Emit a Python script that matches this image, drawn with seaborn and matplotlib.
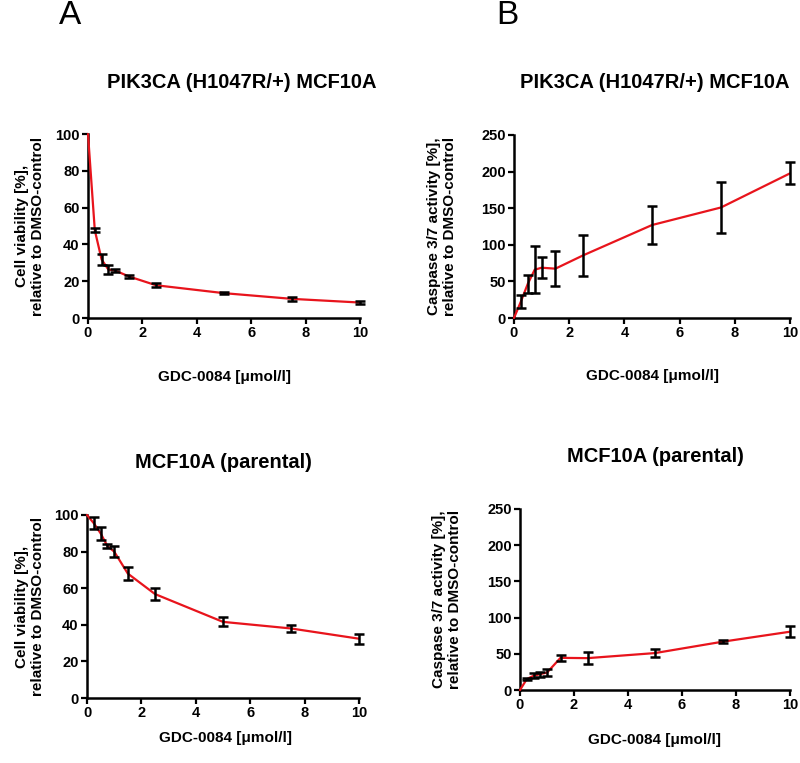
import matplotlib
matplotlib.use("Agg")
import matplotlib.pyplot as plt
import seaborn as sns
import numpy as np
import pandas as pd

sns.set_theme(style="ticks")
plt.rcParams['font.family'] = ['Liberation Sans', 'DejaVu Sans']
plt.rcParams['text.color'] = 'black'
plt.rcParams['axes.labelcolor'] = 'black'

dose = [0, 0.25, 0.5, 0.75, 1.0, 1.5, 2.5, 5.0, 7.5, 10.0]

via_mut = [100, 47.7, 31.8, 26.3, 25.8, 22.6, 17.8, 13.5, 10.4, 8.4]
via_mut_err = [0, 1.0, 2.8, 2.3, 0.8, 1.0, 1.1, 0.5, 1.2, 0.7]

cas_mut = [0, 22.5, 46.7, 66, 68.7, 67.4, 85.5, 127, 151, 197.6]
cas_mut_err = [0, 8.4, 12.3, 32, 14.3, 23.8, 28.5, 26, 35, 15]

via_par = [100, 95.5, 90, 83, 80, 68, 56.8, 41.6, 38, 32.4]
via_par_err = [0, 3.2, 3.6, 1.0, 3.0, 3.6, 3.2, 2.5, 2.0, 2.7]

cas_par = [0, 15, 19.6, 22, 24, 44.4, 44, 51, 66.7, 80.5]
cas_par_err = [0, 1.2, 3.5, 3.5, 5, 4.6, 8, 5.5, 1.9, 7.4]

title_mut = "PIK3CA (H1047R/+) MCF10A"
title_par = "MCF10A (parental)"
xlab = "GDC-0084 [\u03bcmol/l]"
ylab_via = "Cell viability [%],\nrelative to DMSO-control"
ylab_cas = "Caspase 3/7 activity [%],\nrelative to DMSO-control"

W, H = 800, 763
fig = plt.figure(figsize=(8, 7.63), dpi=100)

def px_axes(l, r, t, b):
    return fig.add_axes([l / W, 1 - b / H, (r - l) / W, (b - t) / H])

panels = [
    dict(box=(88, 360, 134, 318), y=via_mut, e=via_mut_err, ymax=100, yt=[0, 20, 40, 60, 80, 100],
         title=title_mut, ylab=ylab_via, tpx=(242, 82), xlpx=(225, 377), ylpx=30),
    dict(box=(514, 790, 135, 318), y=cas_mut, e=cas_mut_err, ymax=250, yt=[0, 50, 100, 150, 200, 250],
         title=title_mut, ylab=ylab_cas, tpx=(655, 82), xlpx=(652, 376), ylpx=442),
    dict(box=(87, 359, 515, 698), y=via_par, e=via_par_err, ymax=100, yt=[0, 20, 40, 60, 80, 100],
         title=title_par, ylab=ylab_via, tpx=(223, 462), xlpx=(225, 738), ylpx=30),
    dict(box=(520, 790, 509, 690), y=cas_par, e=cas_par_err, ymax=250, yt=[0, 50, 100, 150, 200, 250],
         title=title_par, ylab=ylab_cas, tpx=(655, 457), xlpx=(655, 740), ylpx=447),
]

for p in panels:
    l, r, t, b = p['box']
    ax = px_axes(l, r, t, b)
    df = pd.DataFrame({'dose': dose, 'val': p['y'], 'err': p['e']})
    sns.lineplot(data=df, x='dose', y='val', ax=ax, color='#e8141c', linewidth=1.6,
                 clip_on=False, zorder=3)
    de = df[df['err'] > 0]
    ax.errorbar(de['dose'], de['val'], yerr=de['err'], fmt='none', ecolor='black',
                elinewidth=1.8, capsize=3.8, capthick=1.8, clip_on=False, zorder=4)
    ax.set_xlim(0, 10)
    ax.set_ylim(0, p['ymax'])
    ax.set_xticks([0, 2, 4, 6, 8, 10])
    ax.set_yticks(p['yt'])
    sns.despine(ax=ax)
    for s in ['left', 'bottom']:
        ax.spines[s].set_linewidth(1.8)
        ax.spines[s].set_color('black')
    ax.tick_params(direction='out', length=4, width=1.6, colors='black', labelsize=10.5, pad=2)
    for lbl in ax.get_xticklabels() + ax.get_yticklabels():
        lbl.set_fontweight('bold')
    ax.set_xlabel(xlab, fontsize=11, fontweight='bold')
    ax.set_ylabel(p['ylab'], fontsize=11, fontweight='bold', linespacing=1.15)
    ax.xaxis.label.set_va('center')
    ax.yaxis.label.set_va('center')
    ax.xaxis.set_label_coords((p['xlpx'][0] - l) / (r - l), -(p['xlpx'][1] - b) / (b - t))
    ax.yaxis.set_label_coords((p['ylpx'] - l) / (r - l), 0.5)
    fig.text(p['tpx'][0] / W, 1 - p['tpx'][1] / H, p['title'], ha='center', va='center',
             fontsize=14.5, fontweight='bold')

fig.text(70 / W, 1 - 16 / H, "A", ha='center', va='center', fontsize=24)
fig.text(507 / W, 1 - 16 / H, "B", ha='center', va='center', fontsize=24)

fig.savefig("out.png", dpi=100)
